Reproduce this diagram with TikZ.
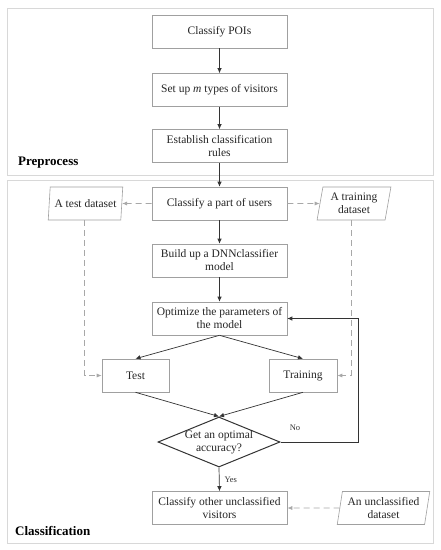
\documentclass[tikz,border=0pt]{standalone}
\usepackage{fontspec}
\setmainfont{Liberation Serif}
\usetikzlibrary{arrows.meta,shapes.geometric,calc}
\definecolor{boxline}{HTML}{A0A0A0}
\definecolor{frameline}{HTML}{D8D8D8}
\definecolor{dashline}{HTML}{A8A8A8}
\tikzset{
  txt/.style={font=\fontsize{11.5}{13}\selectfont, text=black!85},
  stepbox/.style={txt, draw=boxline, line width=0.6pt, rectangle, minimum width=135pt, minimum height=33pt,
    align=center, inner sep=1pt},
  smallbox/.style={stepbox, minimum width=67pt},
  databox/.style={txt, draw=boxline, line width=0.6pt, trapezium, trapezium left angle=78, trapezium right angle=102,
    trapezium stretches=true, minimum height=33pt, align=center, inner sep=0pt},
  decbox/.style={draw=black!80, line width=1pt, diamond, minimum width=122pt, minimum height=50pt, inner sep=0pt},
  flow/.style={draw=black!80, line width=0.7pt, -{Latex[length=5pt,width=4.5pt]}},
  dflow/.style={draw=dashline, line width=0.7pt, dash pattern=on 6pt off 4pt, -{Latex[length=5pt,width=4pt]}},
  frame/.style={draw=frameline, line width=0.8pt},
  lbl/.style={font=\fontsize{13}{15}\selectfont\bfseries, text=black, anchor=west, inner sep=0pt},
  small/.style={font=\fontsize{8.5}{9}\selectfont, text=black!80, inner sep=0pt}
}
\begin{document}
\begin{tikzpicture}[x=1pt,y=-1pt]
\path[fill=white] (0,0) rectangle (440,550);
\draw[frame] (7,8) rectangle (433,175);
\draw[frame] (7,180) rectangle (433,543);
\node[lbl] (prelbl) at (18,163) {Preprocess};
\node[lbl] (clslbl) at (15,531) {Classification};

\node[stepbox] (poi) at (219.5,31.5) {Classify POIs};
\node[stepbox] (types) at (219.5,90) {Set up \textit{m} types of visitors};
\node[stepbox] (rules) at (219.5,146) {Establish classification\\rules};
\node[stepbox] (part) at (219.5,203.5) {Classify a part of users};
\node[databox, minimum width=75pt] (testds) at (85.5,203.5) {A test dataset};
\node[databox, minimum width=74pt] (trainds) at (354,203.5) {A training\\dataset};
\node[stepbox] (build) at (219.5,260.5) {Build up a DNNclassifier\\model};
\node[stepbox] (opt) at (219.5,318.5) {Optimize the parameters of\\the model};
\node[smallbox] (test) at (135.5,375.5) {Test};
\node[smallbox, minimum width=68pt] (train) at (303,375.5) {Training};
\node[decbox] (dec) at (219,442) {};
\node[txt, align=center, inner sep=0pt] (dectxt) at (219,442) {Get an optimal\\accuracy?};
\node[stepbox] (other) at (219.5,508) {Classify other unclassified\\visitors};
\node[databox, minimum width=93pt] (unds) at (383.5,508) {An unclassified\\dataset};

\draw[flow] (poi) -- (types);
\draw[flow] (types) -- (rules);
\draw[flow] (rules) -- (part);
\draw[flow] (part) -- (build);
\draw[flow] (build) -- (opt);
\draw[flow] (opt.south) -- (test.north);
\draw[flow] (opt.south) -- (train.north);
\draw[flow] (test.south) -- (dec.north);
\draw[flow] (train.south) -- (dec.north);
\draw[flow] (dec.south) -- (other.north) node[small, pos=0.5, right=5pt] (yes) {Yes};
\coordinate (fb) at (358,442);
\draw[flow] (dec.east) -- (fb) |- (opt.east);
\node[small] (no) at (295,428) {No};

\draw[dflow] (part.west) -- (testds.east);
\draw[dflow] (part.east) -- (trainds.west);
\coordinate (tdb) at ($(testds.bottom left corner)!0.5!(testds.bottom right corner)$);
\coordinate (trb) at ($(trainds.bottom left corner)!0.5!(trainds.bottom right corner)$);
\draw[dflow] (tdb) |- (test.west);
\draw[dflow] (trb) |- (train.east);
\draw[dflow] (unds.west) -- (other.east);
\end{tikzpicture}
\end{document}
